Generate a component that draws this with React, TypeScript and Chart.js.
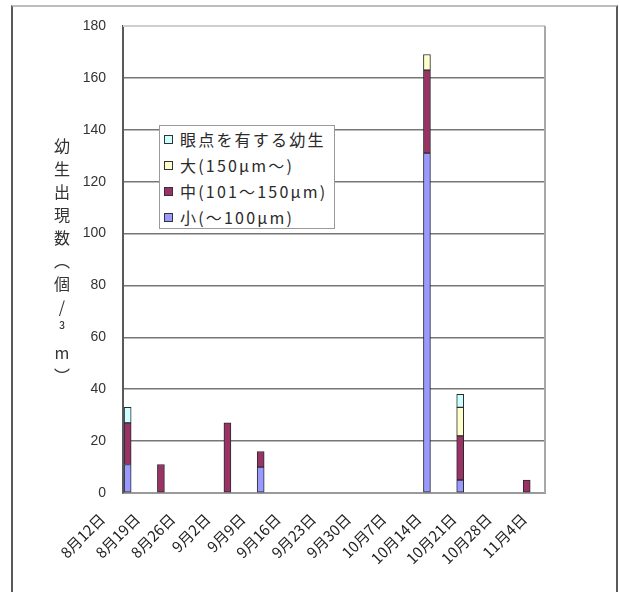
import React, { useEffect, useRef } from 'react';
import { Chart, registerables } from 'chart.js';

Chart.register(...registerables);

// Sampling dates
const dates = ['8月12日', '8月19日', '8月26日', '9月2日', '9月9日', '9月16日', '9月23日', '9月30日', '10月7日', '10月14日', '10月21日', '10月28日', '11月4日'];

// Larvae counts per size class (individuals / m³)
const smallLarvae = [11, 0, 0, 0, 10, 0, 0, 0, 0, 131, 5, 0, 0];
const mediumLarvae = [16, 11, 0, 27, 6, 0, 0, 0, 0, 32, 17, 0, 5];
const largeLarvae = [0, 0, 0, 0, 0, 0, 0, 0, 0, 6, 11, 0, 0];
const eyedLarvae = [6, 0, 0, 0, 0, 0, 0, 0, 0, 0, 5, 0, 0];

const seriesNames = ['小(〜100μm)', '中(101〜150μm)', '大(150μm〜)', '眼点を有する幼生'];
const seriesValues = [smallLarvae, mediumLarvae, largeLarvae, eyedLarvae];
const seriesColors = ['#9999FF', '#993366', '#FFFFCC', '#CCFFFF'];

const yMin = 0;
const yMax = 180;
const yStep = 20;

// Vertical axis title, one glyph per line
const yTitleChars = ['幼', '生', '出', '現', '数', '︵', '個', '/', '³', 'm', '︶'];

const FONT = '"Noto Sans CJK JP", "Noto Sans", sans-serif';

// Right and top edges of the plot frame
const plotFrame = {
  id: 'plotFrame',
  afterDraw(chart: any) {
    const { ctx, chartArea } = chart;
    ctx.save();
    ctx.lineWidth = 2;
    ctx.strokeStyle = '#cfcfcf';
    ctx.beginPath();
    ctx.moveTo(chartArea.left, chartArea.top);
    ctx.lineTo(chartArea.right, chartArea.top);
    ctx.stroke();
    ctx.strokeStyle = '#a8a8a8';
    ctx.beginPath();
    ctx.moveTo(chartArea.right, chartArea.top);
    ctx.lineTo(chartArea.right, chartArea.bottom);
    ctx.stroke();
    ctx.restore();
  },
};

export default function App() {
  const canvasRef = useRef<HTMLCanvasElement>(null);

  useEffect(() => {
    const chart = new Chart(canvasRef.current as HTMLCanvasElement, {
      type: 'bar',
      data: {
        labels: dates,
        datasets: seriesNames.map((name, k) => ({
          label: name,
          data: seriesValues[k].map((v, i) => ({ x: i, y: v })),
          backgroundColor: seriesColors[k],
          borderColor: '#2b2b2b',
          borderWidth: 1,
          borderSkipped: false,
          barThickness: 7,
          xAxisID: 'x',
          yAxisID: 'y',
        })),
      },
      options: {
        responsive: false,
        animation: false,
        layout: { padding: { top: 26, right: 74, left: 0, bottom: 0 } },
        plugins: {
          legend: { display: false },
          tooltip: { enabled: false },
        },
        scales: {
          x: {
            type: 'linear',
            display: false,
            min: -0.14,
            max: 12.55,
            offset: false,
            stacked: true,
            grid: { offset: false },
          },
          xl: {
            type: 'category',
            position: 'bottom',
            labels: dates,
            offset: false,
            grid: { display: false, drawTicks: false },
            border: { display: true, color: '#9a9a9a', width: 2 },
            ticks: {
              autoSkip: false,
              minRotation: 45,
              maxRotation: 45,
              labelOffset: -21,
              padding: 17,
              color: '#222',
              font: { family: FONT, size: 15 },
            },
            afterFit: (s: any) => {
              s.height = 99;
            },
          },
          y: {
            type: 'linear',
            stacked: true,
            min: yMin,
            max: yMax,
            ticks: {
              stepSize: yStep,
              padding: 17,
              color: '#333',
              font: { family: '"Liberation Sans", Arial, sans-serif', size: 14 },
            },
            grid: {
              drawTicks: false,
              lineWidth: 1.5,
              color: (c: any) => (c.tick && c.tick.value === yMax ? '#cfcfcf' : '#767676'),
            },
            border: { display: true, color: '#5a5a5a', width: 2 },
            afterFit: (s: any) => {
              s.width = 123;
            },
          },
        },
      } as any,
      plugins: [plotFrame],
    });
    return () => chart.destroy();
  }, []);

  const legendRows = seriesNames.map((n, k) => ({ name: n, color: seriesColors[k] })).reverse();

  return (
    <div style={{ position: 'absolute', left: 0, top: 0, width: 619, height: 592, overflow: 'hidden', background: '#fff' }}>
      <div
        style={{
          position: 'absolute',
          left: 11,
          top: 5,
          width: 603,
          height: 640,
          borderLeft: '2px solid #5a5a5a',
          borderTop: '2px solid #bdbdbd',
          borderRight: '2px solid #5a5a5a',
        }}
      />
      <canvas ref={canvasRef} width={619} height={592} style={{ position: 'absolute', left: 0, top: 0 }} />
      <div
        style={{
          position: 'absolute',
          left: 52,
          top: 134,
          width: 20,
          fontFamily: FONT,
          fontSize: 16,
          lineHeight: '23px',
          color: '#333',
          textAlign: 'center',
        }}
      >
        {yTitleChars.map((c, i) => (
          <div key={i}>{c}</div>
        ))}
      </div>
      <div
        style={{
          position: 'absolute',
          left: 159,
          top: 125,
          width: 176,
          height: 104,
          boxSizing: 'border-box',
          border: '1px solid #9a9a9a',
          background: '#fff',
          fontFamily: FONT,
          fontSize: 16,
          color: '#2a2a2a',
        }}
      >
        {legendRows.map((r, i) => (
          <div key={i} style={{ height: 26, display: 'flex', alignItems: 'center', whiteSpace: 'nowrap' }}>
            <span
              style={{
                display: 'inline-block',
                width: 7,
                height: 7,
                marginLeft: 4,
                marginRight: 7,
                background: r.color,
                border: '1px solid #333',
              }}
            />
            <span style={{ letterSpacing: '2.2px' }}>{r.name}</span>
          </div>
        ))}
      </div>
    </div>
  );
}
